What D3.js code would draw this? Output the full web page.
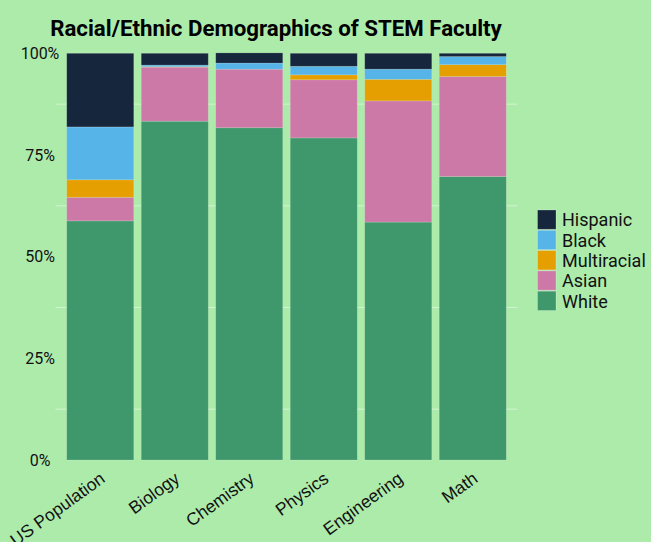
<!DOCTYPE html>
<html><head><meta charset="utf-8">
<script src="https://cdn.jsdelivr.net/npm/d3@7"></script>
<style>
html,body{margin:0;padding:0;background:#adebab;}
svg{display:block;font-family:Roboto,"Liberation Sans",Arial,sans-serif;}
</style></head>
<body><svg id="c" width="651" height="542"></svg>
<script>
const categories = ["US Population","Biology","Chemistry","Physics","Engineering","Math"];
const groups = ["White","Asian","Multiracial","Black","Hispanic"]; // bottom to top
const white       = [58.8, 83.3, 81.7, 79.2, 58.5, 69.7];
const asian       = [5.8, 13.3, 14.4, 14.3, 29.8, 24.6];
const multiracial = [4.3, 0.1, 0.0, 1.2, 5.3, 2.9];
const black       = [13.0, 0.4, 1.5, 2.1, 2.5, 2.0];
const hispanic    = [18.1, 2.9, 2.5, 3.2, 3.9, 0.8];
const yTicks = [0, 0.25, 0.5, 0.75, 1];
const yTickLabels = ["0%","25%","50%","75%","100%"];
const minorTicks = [0.125, 0.375, 0.625, 0.875];
const legendOrder = ["Hispanic","Black","Multiracial","Asian","White"];
const colors = {White:"#3f976c", Asian:"#cc79a7", Multiracial:"#e69f00", Black:"#56b4e9", Hispanic:"#16263d"};

const seriesVals = {White:white, Asian:asian, Multiracial:multiracial, Black:black, Hispanic:hispanic};
const table = categories.map((c,i)=>{const o={cat:c}; groups.forEach(g=>o[g]=seriesVals[g][i]/100); return o;});

const svg = d3.select("#c");
const y = d3.scaleLinear().domain([0,1]).range([460,53.3]);
const x = d3.scaleBand().domain(categories).range([63,510]).paddingInner(0.1).paddingOuter(0.05);

// minor grid
svg.append("g").selectAll("line").data(minorTicks).join("line")
  .attr("x1",55.5).attr("x2",517.4)
  .attr("y1",d=>y(d)).attr("y2",d=>y(d))
  .attr("stroke","#ffffff").attr("stroke-opacity",0.45).attr("stroke-width",1);

const stack = d3.stack().keys(groups)(table);
svg.append("g").selectAll("g").data(stack).join("g")
  .attr("fill",d=>colors[d.key])
  .selectAll("rect").data(d=>d).join("rect")
  .attr("x",d=>x(d.data.cat)).attr("width",x.bandwidth())
  .attr("y",d=>y(d[1])).attr("height",d=>Math.max(0,y(d[0])-y(d[1])))
  .attr("stroke","#ffffff").attr("stroke-opacity",0.2).attr("stroke-width",0.8);

// y axis labels
svg.append("g").selectAll("text").data(yTicks).join("text")
  .attr("x",40).attr("y",d=>y(d)).attr("dy","0.35em")
  .attr("text-anchor","middle").attr("font-size",16).attr("fill","#111")
  .text((d,i)=>yTickLabels[i]);

// x labels
svg.append("g").selectAll("text").data(categories).join("text")
  .attr("transform",d=>`translate(${x(d)+x.bandwidth()/2+6},${481}) rotate(-36)`)
  .attr("text-anchor","end").attr("font-size",17.5).attr("fill","#111")
  .attr("font-family","'Liberation Sans',Arial,sans-serif")
  .text(d=>d);

// title
const title = svg.append("text").attr("x",276).attr("y",28).attr("dy","0.35em")
  .attr("text-anchor","middle").attr("font-weight","bold").attr("font-size",20)
  .attr("fill","#000").text("Racial/Ethnic Demographics of STEM Faculty");
const tw = title.node().getComputedTextLength();
title.attr("font-size", 20*452/tw);

// legend
const lg = svg.append("g").attr("transform","translate(537.5,210)");
const item = lg.selectAll("g").data(legendOrder).join("g")
  .attr("transform",(d,i)=>`translate(0,${i*20.3})`);
item.append("rect").attr("width",18.5).attr("height",19.3)
  .attr("fill",d=>colors[d]).attr("stroke","#ffffff").attr("stroke-opacity",0.3).attr("stroke-width",0.8);
item.append("text").attr("x",24.5).attr("y",10).attr("dy","0.35em")
  .attr("font-size",18).attr("fill","#111").text(d=>d);
</script>
</body></html>
